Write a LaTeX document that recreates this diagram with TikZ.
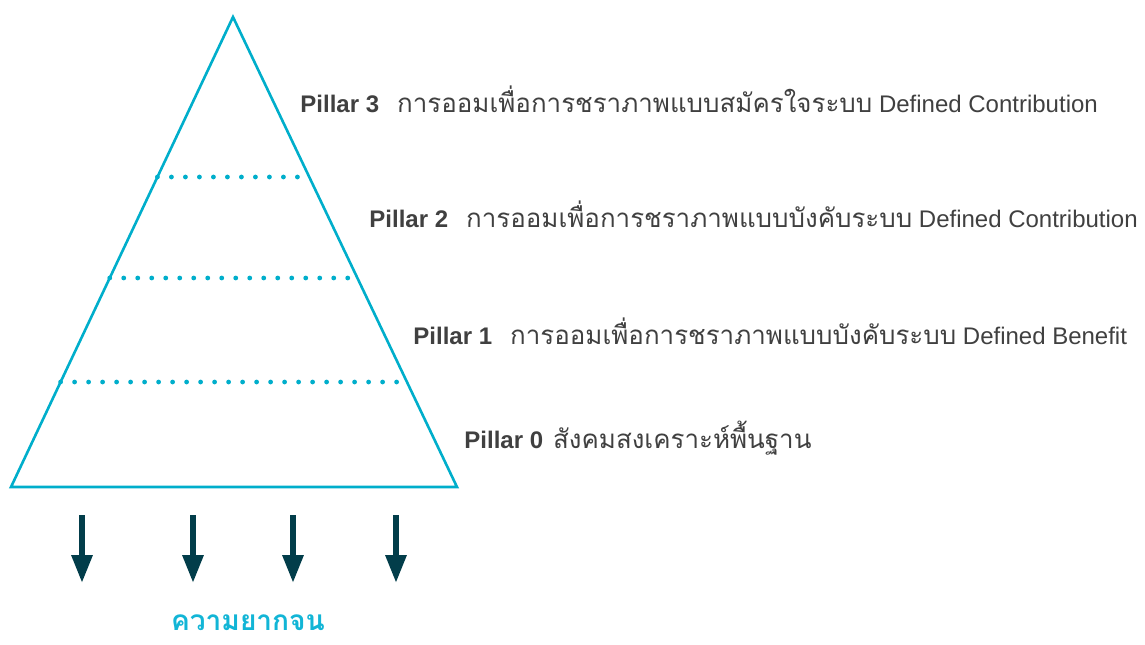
\documentclass[tikz,border=0pt]{standalone}
\usepackage{fontspec}
\setmainfont{Liberation Sans}
\newfontfamily\thaifont[Script=Thai, Scale=1.08]{Loma}
\usepackage{xcolor}
\usetikzlibrary{arrows.meta, calc}

\definecolor{pyrcyan}{HTML}{00AECB}
\definecolor{pyrlabel}{HTML}{12B5D6}
\definecolor{pyrdark}{HTML}{023D4A}
\definecolor{pyrtext}{HTML}{404040}

\tikzset{
  pyrline/.style={line width=1.3pt, pyrcyan},
  pyrdots/.style={pyrcyan, line width=2.4pt, line cap=round, dash pattern=on 0pt off 7pt},
  pyrarrow/.style={pyrdark, line width=3pt, -{Triangle[width=10pt,length=14pt]}},
  pillar/.style={anchor=west, text=pyrtext, font=\fontsize{12}{14}\selectfont, inner sep=0pt}
}

\begin{document}
\begin{tikzpicture}[x=0.5pt, y=-0.5pt]
    \useasboundingbox (0,0) rectangle (1145,644);

    % Draw pyramid outline
    \coordinate (apex) at (233,17);
    \coordinate (bl) at (11,487);
    \coordinate (br) at (457,487);
    \draw[pyrline, line join=miter] (apex) -- (bl) -- (br) -- cycle;

    % Dotted layer lines
    \draw[pyrdots] ($(apex)!0.3404!(bl)$) -- ($(apex)!0.3404!(br)$);
    \draw[pyrdots] ($(apex)!0.5553!(bl)$) -- ($(apex)!0.5553!(br)$);
    \draw[pyrdots] ($(apex)!0.7766!(bl)$) -- ($(apex)!0.7766!(br)$);

    % Pillar labels
    \node[pillar] (p3) at (300,99) {\textbf{Pillar 3}\hspace{9pt}{\thaifont การออมเพื่อการชราภาพแบบสมัครใจระบบ} Defined Contribution};
    \node[pillar] (p2) at (369,214) {\textbf{Pillar 2}\hspace{9pt}{\thaifont การออมเพื่อการชราภาพแบบบังคับระบบ} Defined Contribution};
    \node[pillar] (p1) at (413,331) {\textbf{Pillar 1}\hspace{9pt}{\thaifont การออมเพื่อการชราภาพแบบบังคับระบบ} Defined Benefit};
    \node[pillar] (p0) at (464,438) {\textbf{Pillar 0}\hspace{5pt}{\thaifont สังคมสงเคราะห์พื้นฐาน}};

    % Arrows down to poverty
    \foreach \ax [count=\i] in {82,193,293,396} {
        \coordinate (top\i) at (\ax,515);
        \coordinate (tip\i) at (\ax,583);
        \draw[pyrarrow] (top\i) -- (tip\i);
    }
    \node[anchor=base, text=pyrlabel, inner sep=0pt] (poor) at (248,630)
        {\thaifont\bfseries\fontsize{13}{15}\selectfont ความยากจน};
\end{tikzpicture}
\end{document}
